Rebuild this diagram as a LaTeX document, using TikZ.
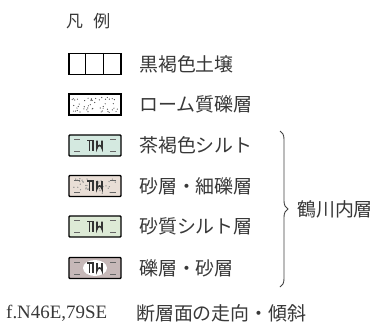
\documentclass[tikz,border=0pt]{standalone}
\usepackage{fontspec}
\setmainfont{Liberation Serif}
\newfontfamily\jp{Noto Sans CJK JP}
\usetikzlibrary{decorations.pathreplacing,calc}
\definecolor{txt}{HTML}{383838}
\definecolor{cA}{HTML}{D4E9E0}
\definecolor{cB}{HTML}{E9DED6}
\definecolor{cC}{HTML}{DDEAD6}
\definecolor{cD}{HTML}{C6B8B8}
\tikzset{
  lbl/.style={anchor=west,inner sep=0pt,font=\jp\fontsize{19}{19}\selectfont,text=txt},
  keybox/.style={draw=black,line width=1.1pt,minimum width=52bp,minimum height=21bp,inner sep=0pt},
  unitbox/.style={keybox,line width=1.4pt,rounded corners=0.8pt},
  sym/.style={line width=1.6pt,draw=black!80},
  tick/.style={line width=0.7pt,draw=black!60}
}
\newcommand{\unitsym}[1]{%
  \draw[sym] ($(#1)+(-8,-5)$) -- ($(#1)+(-1,-5)$);
  \draw[sym] ($(#1)+(-5.5,-5)$) -- ($(#1)+(-5.5,5)$);
  \draw[sym] ($(#1)+(-2,-5)$) -- ($(#1)+(-2,5)$);
  \draw[sym] ($(#1)+(2,-5)$) -- ($(#1)+(2,2.5)$) arc[start angle=180,end angle=360,x radius=2.5bp,y radius=-2.5bp] -- ($(#1)+(7,-5)$);
  \draw[tick] ($(#1)+(-21,-6)$) -- ($(#1)+(-15,-6)$);
  \draw[tick] ($(#1)+(15,-6)$) -- ($(#1)+(21,-6)$);
  \draw[tick] ($(#1)+(-21,6)$) -- ($(#1)+(-15,6)$);
  \draw[tick] ($(#1)+(15,6)$) -- ($(#1)+(21,6)$);
}
\begin{document}
\begin{tikzpicture}[x=1bp,y=-1bp]
\useasboundingbox (0,0) rectangle (387,331);
\node[lbl,font=\jp\fontsize{17}{17}\selectfont] (title) at (66,21) {凡\hspace{0.6em}例};
% box 1
\node[keybox] (b1) at (95,64) {};
\draw[line width=0.9pt] ($(b1.north west)+(17.3,0)$) -- ($(b1.south west)+(17.3,0)$);
\draw[line width=0.9pt] ($(b1.north west)+(34.6,0)$) -- ($(b1.south west)+(34.6,0)$);
\node[lbl] (t1) at (139,64) {黒褐色土壌};
% box 2
\node[keybox] (b2) at (95,104.5) {};
\pgfmathsetseed{7}
\foreach \i in {1,...,50}{
  \pgfmathsetmacro{\rx}{72+46*rnd}
  \pgfmathsetmacro{\ry}{96.5+16*rnd}
  \fill[black!75] (\rx,\ry) circle[radius=0.6bp];
}
\node[lbl] (t2) at (139,104.5) {ローム質礫層};
% box 3
\node[unitbox,fill=cA] (b3) at (95,145.5) {};
\unitsym{b3}
\node[lbl] (t3) at (139,145.5) {茶褐色シルト};
% box 4
\node[unitbox,fill=cB] (b4) at (95,186) {};
\pgfmathsetseed{11}
\foreach \i in {1,...,35}{
  \pgfmathsetmacro{\rx}{72+46*rnd}
  \pgfmathsetmacro{\ry}{178+16*rnd}
  \fill[black!45] (\rx,\ry) circle[radius=0.7bp];
}
\unitsym{b4}
\node[lbl] (t4) at (139,186) {砂層・細礫層};
% box 5
\node[unitbox,fill=cC] (b5) at (95,226.5) {};
\unitsym{b5}
\node[lbl] (t5) at (139,226.5) {砂質シルト層};
% box 6
\node[unitbox,fill=cD] (b6) at (95,268) {};
\fill[white] (b6) ellipse[x radius=12bp,y radius=8bp];
\unitsym{b6}
\node[lbl] (t6) at (139,268) {礫層・砂層};
% brace
\coordinate (bt) at (280,131);
\coordinate (bb) at (280,287);
\draw[line width=0.9pt,draw=black!75,decorate,decoration={brace,amplitude=8bp}] (bt) -- (bb);
\node[lbl] (grp) at (297,209) {鶴川内層};
% bottom line
\node[anchor=west,inner sep=0pt,font=\fontsize{19}{19}\selectfont,text=txt] (f) at (6,313) {f.N46E,79SE};
\node[lbl] (fl) at (136,313) {断層面の走向・傾斜};
\end{tikzpicture}
\end{document}
